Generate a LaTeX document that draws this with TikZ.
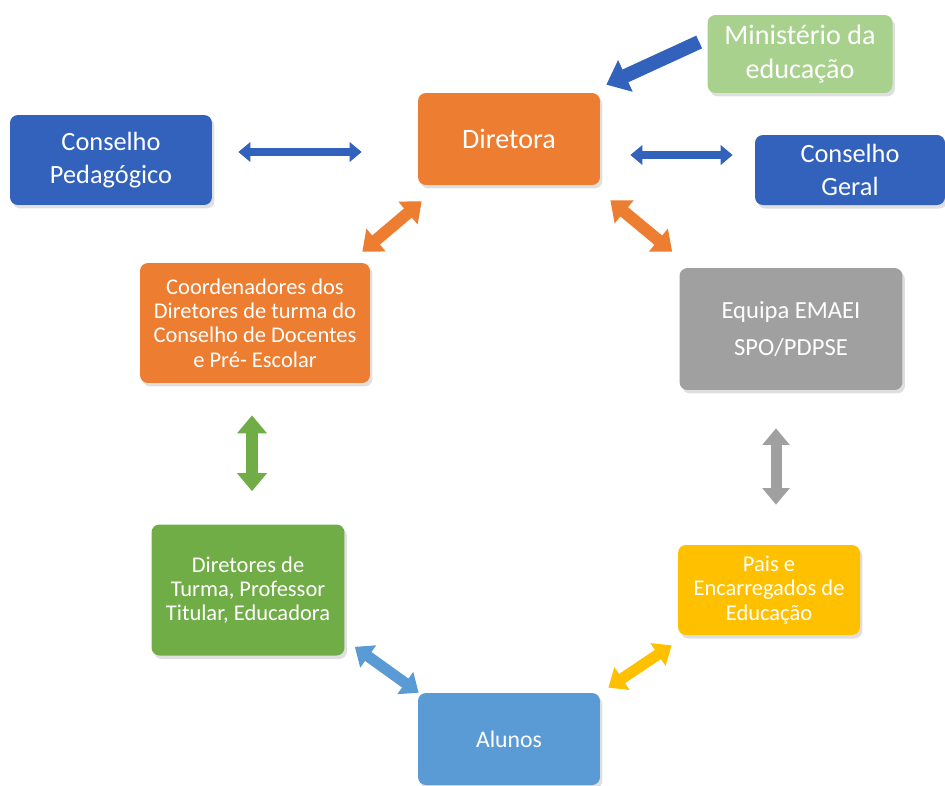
\documentclass[tikz,border=0pt]{standalone}
\usepackage{fontspec}
\setmainfont{Carlito}
\usetikzlibrary{arrows.meta,shadows}
\definecolor{azulescuro}{RGB}{50,98,188}
\definecolor{laranja}{RGB}{237,125,49}
\definecolor{verdeclaro}{RGB}{169,209,142}
\definecolor{cinza}{RGB}{160,160,160}
\definecolor{verde}{RGB}{112,173,71}
\definecolor{amarelo}{RGB}{255,192,0}
\definecolor{azul}{RGB}{91,155,213}
\tikzset{
  caixa/.style={rectangle, rounded corners=4.5pt, fill=#1, text=white, align=center, inner sep=2pt,
    drop shadow={opacity=0.25, shadow xshift=0.5mm, shadow yshift=-0.7mm}},
  seta/.style args={#1,#2}{draw=#1, line width=#2,
    {Triangle[length=0pt 1.5, width=0pt 2.4]}-{Triangle[length=0pt 1.5, width=0pt 2.4]}},
  setasimples/.style args={#1,#2}{draw=#1, line width=#2, -{Triangle[length=0pt 1.5, width=0pt 2.4]}},
  grande/.style={font=\fontsize{15pt}{19pt}\selectfont},
  pequena/.style={font=\fontsize{12.8pt}{13.8pt}\selectfont}
}

\begin{document}
\begin{tikzpicture}[x=0.02cm, y=-0.02cm]
  \useasboundingbox (0,0) rectangle (945,785);
  % caixas
  \node[caixa=azulescuro, grande, minimum width=4.04cm, minimum height=1.8cm] (pedagogico) at (111,160) {Conselho\\Pedagógico};
  \node[caixa=laranja, font=\fontsize{16pt}{19pt}\selectfont, minimum width=3.64cm, minimum height=1.84cm] (diretora) at (509,139) {Diretora};
  \node[caixa=verdeclaro, font=\fontsize{16pt}{19.5pt}\selectfont, minimum width=3.7cm, minimum height=1.56cm] (ministerio) at (800,54) {Ministério da\\educação};
  \node[caixa=azulescuro, grande, minimum width=3.8cm, minimum height=1.4cm] (geral) at (850,170) {Conselho\\Geral};
  \node[caixa=laranja, pequena, minimum width=4.6cm, minimum height=2.4cm] (coordenadores) at (255,323) {Coordenadores dos\\Diretores de turma do\\Conselho de Docentes\\e Pré- Escolar};
  \node[caixa=cinza, font=\fontsize{14pt}{16pt}\selectfont, minimum width=4.46cm, minimum height=2.44cm] (equipa) at (791,329) {Equipa EMAEI\\[5pt]SPO/PDPSE};
  \node[caixa=verde, pequena, minimum width=3.86cm, minimum height=2.62cm] (diretores) at (248,590) {Diretores de\\Turma, Professor\\Titular, Educadora};
  \node[caixa=amarelo, pequena, minimum width=3.64cm, minimum height=1.8cm] (pais) at (769,590) {Pais e\\Encarregados de\\Educação};
  \node[caixa=azul, font=\fontsize{13.5pt}{16pt}\selectfont, minimum width=3.64cm, minimum height=1.84cm] (alunos) at (509,739) {Alunos};
  % setas
  \draw[seta={azulescuro,0.16cm}] ([shift={(26,-8)}]pedagogico.east) -- ([shift={(-56,13)}]diretora.west);
  \draw[seta={azulescuro,0.16cm}] ([shift={(30,16)}]diretora.east) -- ([shift={(-22,-15)}]geral.west);
  \draw[setasimples={azulescuro,0.28cm}] ([shift={(-8,-12)}]ministerio.west) -- ([shift={(6,-8)}]diretora.north east);
  \draw[seta={laranja,0.24cm}] ([shift={(4,16)}]diretora.south west) -- ([shift={(-8,-11)}]coordenadores.north east);
  \draw[seta={laranja,0.24cm}] ([shift={(10,15)}]diretora.south east) -- ([shift={(-7,-16)}]equipa.north west);
  \draw[seta={verde,0.24cm}] ([shift={(-3,32)}]coordenadores.south) -- ([shift={(4,-33)}]diretores.north);
  \draw[seta={cinza,0.22cm}] ([shift={(-15,38)}]equipa.south) -- ([shift={(7,-40)}]pais.north);
  \draw[seta={azul,0.22cm}] ([shift={(10,-9)}]diretores.south east) -- ([shift={(1,0)}]alunos.north west);
  \draw[seta={amarelo,0.22cm}] ([shift={(-6,10)}]pais.south west) -- ([shift={(8,-5)}]alunos.north east);
\end{tikzpicture}
\end{document}
